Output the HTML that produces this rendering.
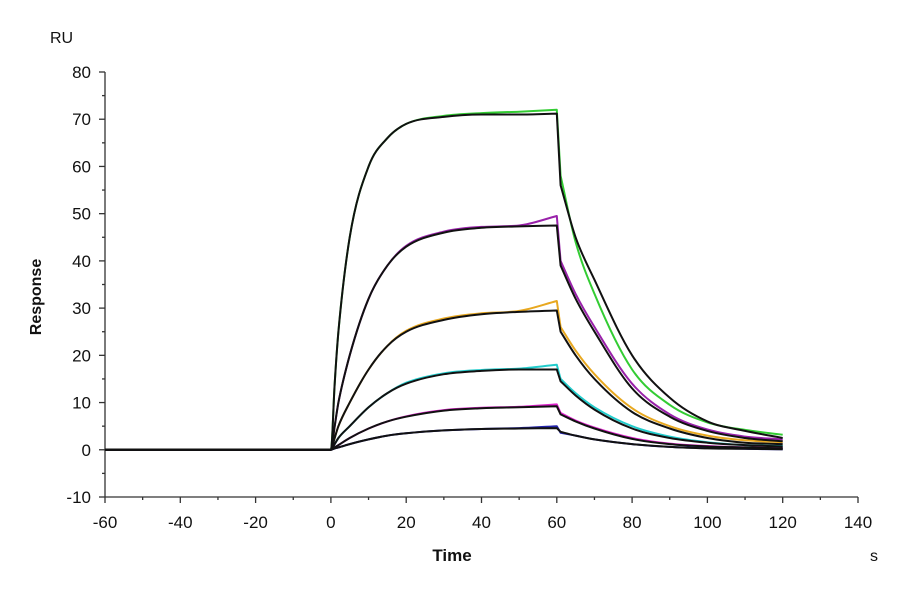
<!DOCTYPE html>
<html><head><meta charset="utf-8"><style>
html,body{margin:0;padding:0;background:#fff}
svg text{font-family:"Liberation Sans",Arial,sans-serif;fill:#111}
</style></head><body>
<svg id="chart" width="900" height="594" viewBox="0 0 900 594" xmlns="http://www.w3.org/2000/svg">
<g id="axes"></g>
<g id="series"></g>
<text x="50" y="43" font-size="16">RU</text>
<text transform="translate(41,297) rotate(-90)" text-anchor="middle" font-size="16" font-weight="bold">Response</text>
<text x="452" y="561" text-anchor="middle" font-size="17" font-weight="bold">Time</text>
<text x="870" y="561" font-size="16">s</text>
</svg>
<script>
const xTicks=[-60,-40,-20,0,20,40,60,80,100,120,140];
const yTicks=[-10,0,10,20,30,40,50,60,70,80];
const times=[-60,0,1,2,5,10,15,20,30,40,50,60,61,65,70,80,90,100,110,120];
const fit1=[0,0,14,25,45,60,66,69,70.5,71,71,71.2,56,45,36,20,11,6,4,2.5];
const data1=[0,0,14,25,45,60,66,69,70.7,71.3,71.6,72,58,44,33,17,9.5,5.8,4.2,3.2];
const fit2=[0,0,5,10,20,32,39,43,46,47,47.3,47.5,39,32,25,13,7,4,2.5,1.8];
const data2=[0,0,5,10,20,32,39,43.2,46.2,47.2,47.5,49.5,40,33,26,14,7.5,4.3,2.8,2.2];
const fit3=[0,0,2.5,5,10,17,22,25,27.5,28.7,29.2,29.5,25,20,15,8,4.5,2.5,1.5,1.2];
const data3=[0,0,2.5,5,10,17,22,25.2,27.8,28.9,29.4,31.5,26,21,16,8.8,5,3,2,1.6];
const fit4=[0,0,1.2,2.5,5,9,12,14,16,16.7,17,17,14.5,11.5,8.5,4.5,2.5,1.5,1,0.7];
const data4=[0,0,1.2,2.5,5,9,12,14.2,16.2,16.9,17.2,18,15,12,9,5,2.8,1.6,1,0.8];
const fit5=[0,0,0.5,1,2.5,4.5,6,7,8.3,8.8,9,9.2,7.5,6,4.5,2.3,1.2,0.7,0.5,0.3];
const data5=[0,0,0.5,1,2.5,4.5,6,7.1,8.4,8.9,9.1,9.6,7.8,6.2,4.7,2.5,1.3,0.8,0.5,0.4];
const fit6=[0,0,0.3,0.5,1.2,2.2,3,3.5,4.1,4.4,4.5,4.6,3.8,3,2.2,1.2,0.6,0.3,0.2,0.1];
const data6=[0,0,0.3,0.5,1.2,2.2,3,3.5,4.1,4.4,4.6,5,3.6,3,2.2,1.2,0.6,0.4,0.2,0.1];
const dataSets=[data1,data2,data3,data4,data5,data6];
const fitSets=[fit1,fit2,fit3,fit4,fit5,fit6];
const colors=["#33cc33","#9922aa","#e8a820","#22cccc","#dd22cc","#2222aa"];
// phase boundaries: injection start, injection end, dissociation start
const injectStart=0, injectEnd=60, dissocStart=61;

const NS="http://www.w3.org/2000/svg";
const X0=105,X1=858,Y0=497,Y1=72;
const xs=t=>X0+(t-(-60))/(200)*(X1-X0);
const ys=v=>Y0-(v-(-10))/90*(Y0-Y1);
const axes=document.getElementById('axes');
function ln(x1,y1,x2,y2,name,w){const l=document.createElementNS(NS,'line');
l.setAttribute('x1',x1);l.setAttribute('y1',y1);l.setAttribute('x2',x2);l.setAttribute('y2',y2);
l.setAttribute('stroke','#333');l.setAttribute('stroke-width',w||1.3);


axes.appendChild(l);}
function tx(x,y,s,anchor,name){const t=document.createElementNS(NS,'text');
t.setAttribute('x',x);t.setAttribute('y',y);t.setAttribute('text-anchor',anchor);t.setAttribute('font-size','17');t.textContent=s;


axes.appendChild(t);}
ln(X0,Y0,X1,Y0,'x-axis-line');
ln(X0,Y1,X0,Y0,'y-axis-line');
xTicks.forEach((v,i)=>{const x=xs(v);ln(x,Y0,x,Y0+6,'x-tick');tx(x,Y0+31,String(v),'middle','x-tick-label');
if(i<xTicks.length-1){const m=xs(v+10);ln(m,Y0,m,Y0+3,'x-minor-tick');}});
yTicks.forEach((v,i)=>{const y=ys(v);ln(X0-6,y,X0,y,'y-tick');tx(X0-14,y+6,String(v),'end','y-tick-label');
if(i<yTicks.length-1){const m=ys(v+5);ln(X0-3,m,X0,m,'y-minor-tick');}});
const ser=document.getElementById('series');
function monoPath(tt,px,py){const n=px.length,d=[],m=[];
for(let i=0;i<n-1;i++)d.push((py[i+1]-py[i])/(px[i+1]-px[i]));
m[0]=d[0];m[n-1]=d[n-2];
for(let i=1;i<n-1;i++){
 if(tt[i]===injectStart)m[i]=0;
 else if(tt[i]===injectEnd)m[i]=d[i-1];
 else if(tt[i]===dissocStart)m[i]=d[i];
 else if(d[i-1]*d[i]<=0)m[i]=0;
 else m[i]=(d[i-1]+d[i])/2;}
for(let i=0;i<n-1;i++){if(d[i]===0){m[i]=0;m[i+1]=0;continue;}
if(tt[i]===injectEnd)continue;
const a=m[i]/d[i],b=m[i+1]/d[i],s=a*a+b*b;if(s>9){const t=3/Math.sqrt(s);m[i]=t*a*d[i];m[i+1]=t*b*d[i];}}
let s='M'+px[0].toFixed(1)+','+py[0].toFixed(1);
for(let i=0;i<n-1;i++){
 if(tt[i]===injectEnd){s+='L'+px[i+1].toFixed(1)+','+py[i+1].toFixed(1);continue;}
 const h=(px[i+1]-px[i])/3;
 s+='C'+(px[i]+h).toFixed(1)+','+(py[i]+m[i]*h).toFixed(1)+' '+(px[i+1]-h).toFixed(1)+','+(py[i+1]-m[i+1]*h).toFixed(1)+' '+px[i+1].toFixed(1)+','+py[i+1].toFixed(1);}
return s;}
function path(vals,color,w,name){const p=document.createElementNS(NS,'path');
p.setAttribute('d',monoPath(times,times.map(xs),vals.map(ys)));
p.setAttribute('fill','none');p.setAttribute('stroke',color);p.setAttribute('stroke-width',w);p.setAttribute('stroke-linejoin','round');


ser.appendChild(p);}
dataSets.forEach((d,i)=>path(d,colors[i],2,'data-curve'));
fitSets.forEach((d,i)=>path(d,'#111',2,'fit-curve'));
</script>
</body></html>
